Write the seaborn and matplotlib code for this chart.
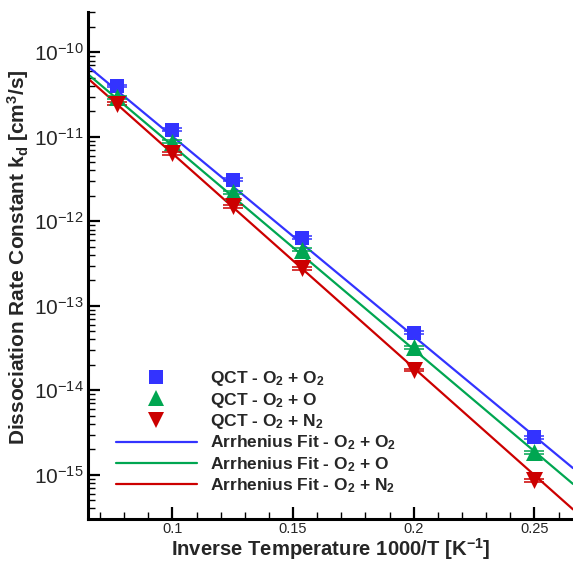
import numpy as np
import pandas as pd
import matplotlib
matplotlib.use("Agg")
import matplotlib.pyplot as plt
import seaborn as sns
from matplotlib.lines import Line2D
from matplotlib.ticker import (FixedLocator, MultipleLocator, NullFormatter,
                               FuncFormatter)

# QCT dissociation rate constants [cm^3/s] at each translational temperature
temperature_K = [13000, 10000, 8000, 6500, 5000, 4000]
k_o2_o2 = [4.0e-11, 1.22e-11, 3.1e-12, 6.4e-13, 4.8e-14, 2.8e-15]
k_o2_o = [2.95e-11, 8.7e-12, 2.2e-12, 4.6e-13, 3.25e-14, 1.85e-15]
k_o2_n2 = [2.45e-11, 6.4e-12, 1.5e-12, 2.8e-13, 1.74e-14, 8.6e-16]
rel_err = 0.04  # relative statistical uncertainty of the QCT rates

# Arrhenius fits evaluated at the ends of the plotted 1000/T range
fit_x = [0.065, 0.266]
fit_o2_o2 = [6.8e-11, 1.2e-15]
fit_o2_o = [5.5e-11, 7.8e-16]
fit_o2_n2 = [4.9e-11, 3.9e-16]

# labelled decades on the rate axis
y_decades = [-15, -14, -13, -12, -11, -10]

series_names = ["O2 + O2", "O2 + O", "O2 + N2"]
qct_labels = [r"QCT - O$_2$ + O$_2$", r"QCT - O$_2$ + O", r"QCT - O$_2$ + N$_2$"]
fit_labels = [r"Arrhenius Fit - O$_2$ + O$_2$", r"Arrhenius Fit - O$_2$ + O",
              r"Arrhenius Fit - O$_2$ + N$_2$"]
colors = ["#3333FF", "#00A651", "#CC0000"]
markers = ["s", "^", "v"]
marker_sizes = [110, 150, 150]

sns.set_theme(style="white")
plt.rcParams["font.family"] = ["Liberation Sans", "DejaVu Sans"]
plt.rcParams["mathtext.default"] = "regular"

inv_T = [1000.0 / t for t in temperature_K]
qct = pd.DataFrame({
    "inv_T": inv_T * 3,
    "k": k_o2_o2 + k_o2_o + k_o2_n2,
    "system": sum([[n] * len(inv_T) for n in series_names], []),
})
fits = pd.DataFrame({
    "inv_T": fit_x * 3,
    "k": fit_o2_o2 + fit_o2_o + fit_o2_n2,
    "system": sum([[n] * len(fit_x) for n in series_names], []),
})
palette = dict(zip(series_names, colors))

fig = plt.figure(figsize=(5.73, 5.62), dpi=100)
ax = fig.add_axes([88 / 573, 1 - 519 / 562, 485 / 573, 507 / 562])

sns.lineplot(data=fits, x="inv_T", y="k", hue="system", palette=palette,
             linewidth=1.6, legend=False, ax=ax, zorder=2)

for name, color, mk, ms in zip(series_names, colors, markers, marker_sizes):
    sub = qct[qct["system"] == name]
    ax.errorbar(sub["inv_T"], sub["k"], yerr=rel_err * sub["k"], fmt="none",
                ecolor=color, elinewidth=1.1, capsize=7, capthick=1.1, zorder=3)
    sns.scatterplot(data=sub, x="inv_T", y="k", color=color, marker=mk, s=ms,
                    linewidth=0, ax=ax, zorder=4, legend=False)

ax.set_yscale("log")
ax.set_xlim(0.065, 0.266)
ax.set_ylim(3e-16, 3e-10)

ax.xaxis.set_major_locator(MultipleLocator(0.05))
ax.xaxis.set_minor_locator(MultipleLocator(0.01))
ax.xaxis.set_major_formatter(FuncFormatter(lambda v, p: f"{v:g}"))

minor_y = [m * 10.0 ** d for d in range(y_decades[0] - 1, y_decades[-1] + 1)
           for m in range(2, 10)]
minor_y = [v for v in minor_y if 3e-16 <= v <= 3e-10]
ax.yaxis.set_major_locator(FixedLocator([10.0 ** d for d in y_decades]))
ax.yaxis.set_minor_locator(FixedLocator(minor_y))
ax.yaxis.set_minor_formatter(NullFormatter())
ax.yaxis.set_major_formatter(FuncFormatter(
    lambda v, p: r"10$^{%d}$" % int(round(np.log10(v)))))

for side in ["top", "right"]:
    ax.spines[side].set_visible(False)
for side in ["left", "bottom"]:
    ax.spines[side].set_linewidth(2.2)
    ax.spines[side].set_color("black")

ax.tick_params(axis="both", which="both", direction="in", left=True, bottom=True,
               top=False, right=False, color="black")
ax.tick_params(axis="both", which="major", length=8.5, width=1.6)
ax.tick_params(axis="both", which="minor", length=5, width=1.0)
ax.tick_params(axis="y", which="major", labelsize=15, pad=3)
ax.tick_params(axis="x", which="major", labelsize=10.5, pad=2.5)

ax.set_xlabel(r"Inverse Temperature 1000/T [K$^{-1}$]", fontsize=14.6,
              fontweight="bold", va="baseline")
ax.set_ylabel(r"Dissociation Rate Constant k$_d$ [cm$^3$/s]", fontsize=15,
              fontweight="bold")
ax.xaxis.set_label_coords(0.5, (519 - 556) / 507)
ax.yaxis.set_label_coords((31 - 88) / 485, 0.517)

handles = [Line2D([], [], linestyle="none", marker=m, color=c, markersize=s ** 0.5 * 0.95,
                  markeredgewidth=0) for m, c, s in zip(markers, colors, marker_sizes)]
handles += [Line2D([], [], color=c, linewidth=1.6) for c in colors]
ax.legend(handles, qct_labels + fit_labels, loc="upper left",
          bbox_to_anchor=(0.058, 0.296), frameon=False, borderpad=0,
          borderaxespad=0, handlelength=4.65, handletextpad=0.75,
          labelspacing=0.15, prop={"weight": "bold", "size": 12.5})

fig.savefig("out.png", dpi=100)
